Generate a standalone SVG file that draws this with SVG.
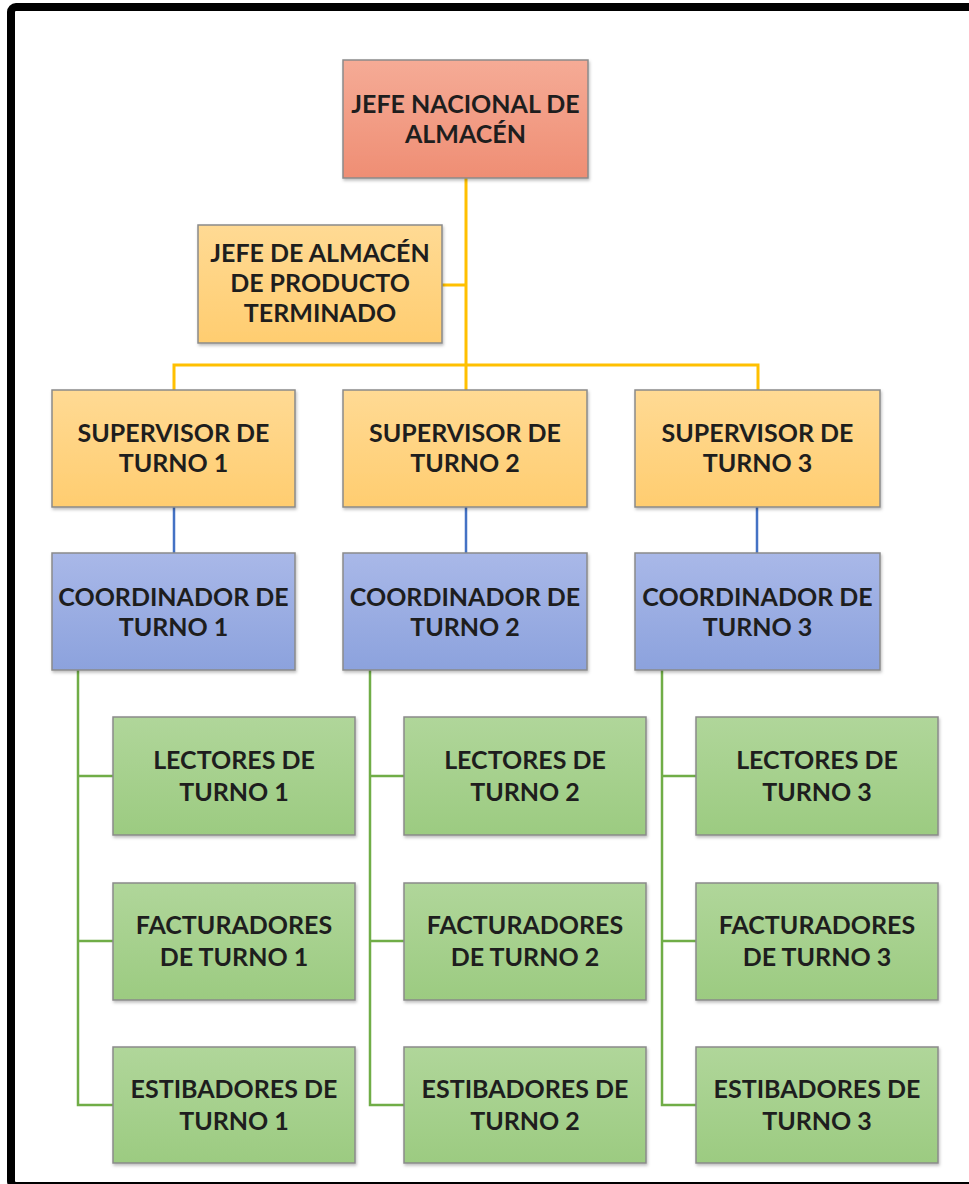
<svg xmlns="http://www.w3.org/2000/svg" width="969" height="1184" viewBox="0 0 969 1184">
<defs>
<linearGradient id="gRed" x1="0" y1="0" x2="0" y2="1"><stop offset="0" stop-color="#F5AB96"/><stop offset="1" stop-color="#EF8E74"/></linearGradient>
<linearGradient id="gYel" x1="0" y1="0" x2="0" y2="1"><stop offset="0" stop-color="#FFDA94"/><stop offset="1" stop-color="#FFCD70"/></linearGradient>
<linearGradient id="gBlu" x1="0" y1="0" x2="0" y2="1"><stop offset="0" stop-color="#A9B8E8"/><stop offset="1" stop-color="#8CA2DD"/></linearGradient>
<linearGradient id="gGrn" x1="0" y1="0" x2="0" y2="1"><stop offset="0" stop-color="#B0D69A"/><stop offset="1" stop-color="#9CCB81"/></linearGradient>
<filter id="sh" x="-5%" y="-5%" width="110%" height="115%"><feDropShadow dx="1" dy="2" stdDeviation="1.5" flood-color="#000" flood-opacity="0.25"/></filter>
</defs>
<style>
.box{stroke:#8a8a8a;stroke-width:1.5;filter:url(#sh)}
.r{fill:url(#gRed)}.y{fill:url(#gYel)}.b{fill:url(#gBlu)}.g{fill:url(#gGrn)}
text{font-family:Lato,"Open Sans","Liberation Sans",sans-serif;font-weight:bold;font-size:25px;fill:#1e1e1e;text-anchor:middle}
.cy{stroke:#FFC000;stroke-width:3;fill:none}
.cb{stroke:#4472C4;stroke-width:2.5;fill:none}
.cg{stroke:#70AD47;stroke-width:2.5;fill:none}
</style>
<rect x="0" y="0" width="969" height="1184" fill="#fff"/>
<rect x="11" y="7" width="990" height="1179" rx="5" fill="#fff" stroke="#000" stroke-width="8"/>
<g id="connectors">
<path class="cy" d="M466 178V365M442 285H466M174 390V365H758V390M466 365V390"/>
<path class="cb" d="M174 507V553M466 507V553M757 507V553"/>
<path class="cg" d="M78 670V1105H113M78 776H113M78 941H113"/>
<path class="cg" d="M370 670V1105H404M370 776H404M370 941H404"/>
<path class="cg" d="M662 670V1105H696M662 776H696M662 941H696"/>
</g>
<g id="n-jefe-nacional"><rect class="box r" x="343" y="60" width="245" height="118"/><text x="465.5" y="113">JEFE NACIONAL DE</text><text x="465.5" y="143">ALMACÉN</text></g>
<g id="n-jefe-almacen"><rect class="box y" x="198" y="225" width="244" height="118"/><text x="320" y="262">JEFE DE ALMACÉN</text><text x="320" y="292">DE PRODUCTO</text><text x="320" y="322">TERMINADO</text></g>
<g id="n-sup1"><rect class="box y" x="52" y="390" width="243" height="117"/><text x="173.5" y="442">SUPERVISOR DE</text><text x="173.5" y="472">TURNO 1</text></g>
<g id="n-sup2"><rect class="box y" x="343" y="390" width="244" height="117"/><text x="465" y="442">SUPERVISOR DE</text><text x="465" y="472">TURNO 2</text></g>
<g id="n-sup3"><rect class="box y" x="635" y="390" width="245" height="117"/><text x="757.5" y="442">SUPERVISOR DE</text><text x="757.5" y="472">TURNO 3</text></g>
<g id="n-coord1"><rect class="box b" x="52" y="553" width="243" height="117"/><text x="173.5" y="606">COORDINADOR DE</text><text x="173.5" y="636">TURNO 1</text></g>
<g id="n-coord2"><rect class="box b" x="343" y="553" width="244" height="117"/><text x="465" y="606">COORDINADOR DE</text><text x="465" y="636">TURNO 2</text></g>
<g id="n-coord3"><rect class="box b" x="635" y="553" width="245" height="117"/><text x="757.5" y="606">COORDINADOR DE</text><text x="757.5" y="636">TURNO 3</text></g>
<g id="n-lect1"><rect class="box g" x="113" y="717" width="242" height="118"/><text x="234" y="769">LECTORES DE</text><text x="234" y="801">TURNO 1</text></g>
<g id="n-lect2"><rect class="box g" x="404" y="717" width="242" height="118"/><text x="525" y="769">LECTORES DE</text><text x="525" y="801">TURNO 2</text></g>
<g id="n-lect3"><rect class="box g" x="696" y="717" width="242" height="118"/><text x="817" y="769">LECTORES DE</text><text x="817" y="801">TURNO 3</text></g>
<g id="n-fact1"><rect class="box g" x="113" y="883" width="242" height="117"/><text x="234" y="934">FACTURADORES</text><text x="234" y="966">DE TURNO 1</text></g>
<g id="n-fact2"><rect class="box g" x="404" y="883" width="242" height="117"/><text x="525" y="934">FACTURADORES</text><text x="525" y="966">DE TURNO 2</text></g>
<g id="n-fact3"><rect class="box g" x="696" y="883" width="242" height="117"/><text x="817" y="934">FACTURADORES</text><text x="817" y="966">DE TURNO 3</text></g>
<g id="n-est1"><rect class="box g" x="113" y="1047" width="242" height="116"/><text x="234" y="1098">ESTIBADORES DE</text><text x="234" y="1130">TURNO 1</text></g>
<g id="n-est2"><rect class="box g" x="404" y="1047" width="242" height="116"/><text x="525" y="1098">ESTIBADORES DE</text><text x="525" y="1130">TURNO 2</text></g>
<g id="n-est3"><rect class="box g" x="696" y="1047" width="242" height="116"/><text x="817" y="1098">ESTIBADORES DE</text><text x="817" y="1130">TURNO 3</text></g>
</svg>
